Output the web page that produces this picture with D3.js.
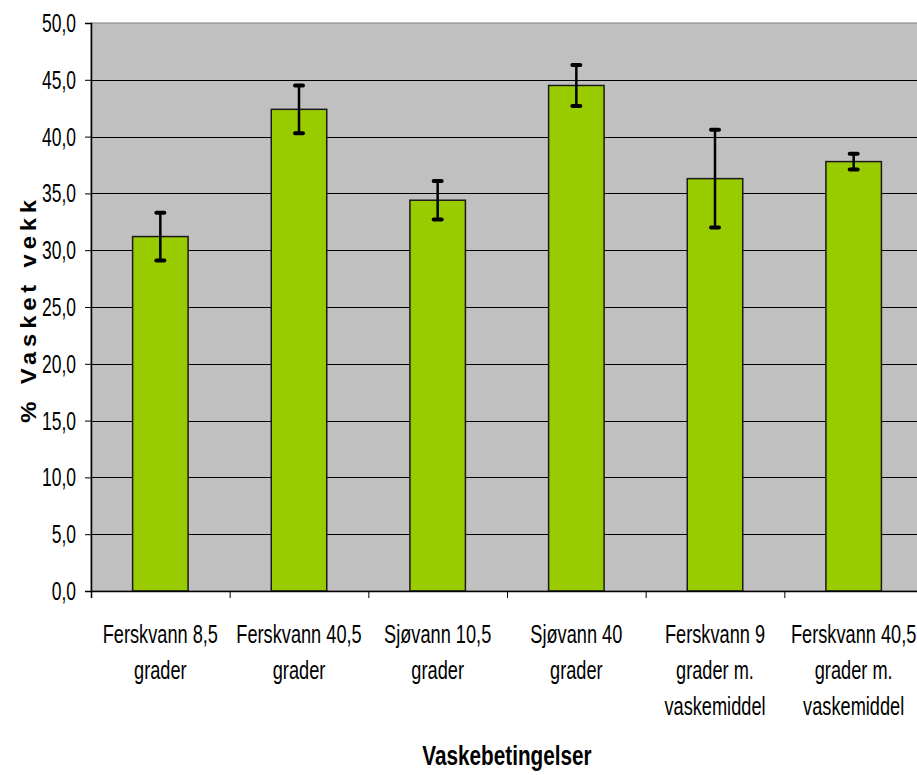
<!DOCTYPE html>
<html>
<head>
<meta charset="utf-8">
<script src="https://cdn.jsdelivr.net/npm/d3@7"></script>
<style>
  html, body { margin: 0; padding: 0; background: #ffffff; }
  svg { display: block; }
  text { font-family: "Liberation Sans", Arial, sans-serif; fill: #000; }
</style>
</head>
<body>
<svg id="chart" width="917" height="775"></svg>
<script>
// Wash conditions, mean percentage washed away, and error (±)
const categories = [
  ["Ferskvann 8,5", "grader"],
  ["Ferskvann 40,5", "grader"],
  ["Sjøvann 10,5", "grader"],
  ["Sjøvann 40", "grader"],
  ["Ferskvann 9", "grader m.", "vaskemiddel"],
  ["Ferskvann 40,5", "grader m.", "vaskemiddel"]
];
const values = [31.2, 42.4, 34.4, 44.5, 36.3, 37.8];
const errors = [2.1, 2.1, 1.7, 1.8, 4.3, 0.7];
const yTicks = [0, 5, 10, 15, 20, 25, 30, 35, 40, 45, 50];

// tall, condensed lettering
const NARROW = 0.7;

const svg = d3.select("#chart");
const margin = { left: 91, top: 23, right: 923, bottom: 591 };

const x = d3.scaleBand()
  .domain(d3.range(categories.length))
  .range([margin.left, margin.right])
  .paddingInner(0.6)
  .paddingOuter(0.3);

const y = d3.scaleLinear().domain([0, 50]).range([margin.bottom, margin.top]);

// plot area
svg.append("rect")
  .attr("x", margin.left).attr("y", margin.top)
  .attr("width", margin.right - margin.left)
  .attr("height", margin.bottom - margin.top)
  .attr("fill", "#c0c0c0")
  .attr("stroke", "#808080").attr("stroke-width", 1);

// gridlines
svg.append("g").selectAll("line")
  .data(yTicks.filter(d => d > 0 && d < 50))
  .join("line")
  .attr("x1", margin.left).attr("x2", margin.right)
  .attr("y1", d => Math.round(y(d)) + 0.5).attr("y2", d => Math.round(y(d)) + 0.5)
  .attr("stroke", "#000").attr("stroke-width", 1);

// bars
svg.append("g").selectAll("rect")
  .data(values)
  .join("rect")
  .attr("x", (d, i) => x(i))
  .attr("y", d => y(d))
  .attr("width", x.bandwidth())
  .attr("height", d => y(0) - y(d))
  .attr("fill", "#99cc00")
  .attr("stroke", "#1a1a1a").attr("stroke-width", 1.5);

// error bars
const eb = svg.append("g").attr("stroke", "#000");
values.forEach((v, i) => {
  const cx = x(i) + x.bandwidth() / 2;
  eb.append("line")
    .attr("x1", cx).attr("x2", cx)
    .attr("y1", y(v + errors[i])).attr("y2", y(v - errors[i]))
    .attr("stroke-width", 2.5);
  [v + errors[i], v - errors[i]].forEach(e => {
    eb.append("line")
      .attr("x1", cx - 4).attr("x2", cx + 4)
      .attr("y1", y(e)).attr("y2", y(e))
      .attr("stroke-width", 4).attr("stroke-linecap", "round");
  });
});

// y axis
const yAxis = d3.axisLeft(y)
  .tickValues(yTicks)
  .tickSize(6)
  .tickPadding(9)
  .tickFormat(d => d3.format(".1f")(d).replace(".", ","));
const gy = svg.append("g")
  .attr("transform", `translate(${margin.left},0)`)
  .call(yAxis);
gy.select(".domain").attr("stroke", "#000").attr("stroke-width", 1.5);
gy.selectAll(".tick line").attr("stroke", "#000");
gy.selectAll(".tick text")
  .style("font-size", "25px")
  .attr("fill", "#000")
  .attr("x", 0)
  .attr("dy", "0.34em")
  .attr("transform", `translate(-15,0) scale(${NARROW},1)`);

// x axis
const xb = d3.scaleLinear().domain([0, categories.length]).range([margin.left, margin.right]);
const gx = svg.append("g")
  .attr("transform", `translate(0,${margin.bottom})`)
  .call(d3.axisBottom(xb).tickValues(d3.range(categories.length + 1)).tickSize(7).tickFormat(""));
gx.select(".domain").attr("stroke", "#000").attr("stroke-width", 1.5);
gx.selectAll(".tick line").attr("stroke", "#000");

// category labels
const lab = svg.append("g");
categories.forEach((lines, i) => {
  const cx = x(i) + x.bandwidth() / 2;
  const t = lab.append("text")
    .attr("text-anchor", "middle")
    .attr("transform", `translate(${cx},643) scale(${NARROW},1)`)
    .style("font-size", "26px");
  lines.forEach((s, k) => {
    t.append("tspan").attr("x", 0).attr("dy", k === 0 ? 0 : 36).text(s);
  });
});

// axis titles
svg.append("text")
  .attr("transform", `translate(507,765) scale(0.74,1)`)
  .attr("text-anchor", "middle")
  .style("font-size", "28px").style("font-weight", "bold")
  .text("Vaskebetingelser");

svg.append("text")
  .attr("transform", "translate(36,309) rotate(-90) scale(1.08,1)")
  .attr("text-anchor", "middle")
  .style("font-size", "22px").style("font-weight", "bold")
  .style("letter-spacing", "4.5px")
  .style("word-spacing", "1px")
  .text("% Vasket vekk");
</script>
</body>
</html>
